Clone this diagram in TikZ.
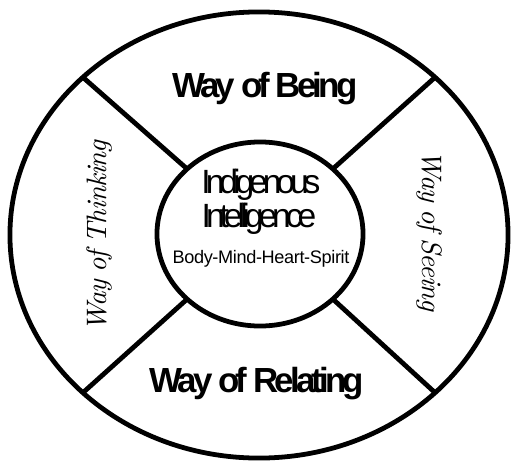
\documentclass[tikz,border=0pt]{standalone}
\usepackage{fontspec}
\newfontfamily\iwhead[LetterSpace=-11]{Liberation Sans}
\newfontfamily\iwcore[LetterSpace=-15]{Liberation Sans}
\newfontfamily\iwsmall[LetterSpace=-2]{Liberation Sans}
\newfontfamily\iwhand{lmroman10}[Extension=.otf, UprightFont=*-regular, ItalicFont=*-italic, LetterSpace=-3, WordSpace=0.75]
\usetikzlibrary{shapes.geometric}

\begin{document}
\begin{tikzpicture}[
    x=0.025cm, y=0.025cm,
    iwring/.style={ellipse, draw=black, line width=3.4pt, inner sep=0pt, outer sep=0pt},
    iwspoke/.style={draw=black, line width=3.4pt},
    iwway/.style={anchor=base, inner sep=0pt, font=\iwhead\bfseries\fontsize{24.8}{28}\selectfont},
    iwcenter/.style={anchor=base, inner sep=0pt, font=\iwcore\fontsize{23.9}{27}\selectfont},
    iwsub/.style={anchor=base, inner sep=0pt, font=\iwsmall\fontsize{12.9}{15}\selectfont},
    iwscript/.style={anchor=base, inner sep=0pt, font=\iwhand\itshape\fontsize{20}{24}\selectfont}
]
\useasboundingbox (-259,235) rectangle (252,-226);

\node[iwring, minimum width=12.45cm, minimum height=11.15cm] (outer) at (0,0) {};
\node[iwring, minimum width=5.15cm, minimum height=4.6cm] (inner) at (1,1) {};

\draw[iwspoke] (inner.north west) -- (outer.north west);
\draw[iwspoke] (inner.north east) -- (outer.north east);
\draw[iwspoke] (inner.south west) -- (outer.south west);
\draw[iwspoke] (inner.south east) -- (outer.south east);

\node[iwway] (being) at (6,138) {Way of Being};
\node[iwway] (relating) at (-2,-157) {Way of Relating};
\node[iwcenter] (indigenous) at (2,42) {Indigenous};
\node[iwcenter] (intelligence) at (0,8) {Intelligence};
\node[iwsub] (wholeself) at (2,-28) {Body-Mind-Heart-Spirit};
\node[iwscript, rotate=90] (thinking) at (-152,-1) {Way of Thinking};
\node[iwscript, rotate=-90] (seeing) at (163,4) {Way of Seeing};
\end{tikzpicture}
\end{document}
